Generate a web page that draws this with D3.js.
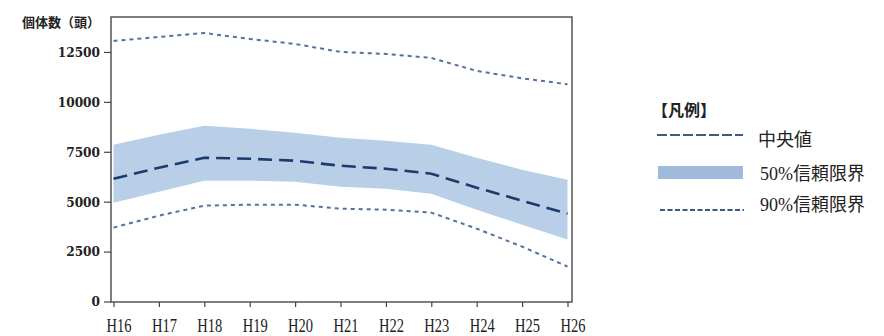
<!DOCTYPE html>
<html>
<head>
<meta charset="utf-8">
<script src="https://cdn.jsdelivr.net/npm/d3@7"></script>
<style>
body { margin: 0; background: #fff; }
text { fill: #222; }
</style>
</head>
<body>
<script>
// years (Heisei)
let years = ["H16", "H17", "H18", "H19", "H20", "H21", "H22", "H23", "H24", "H25", "H26"];
let median = [6150, 6700, 7200, 7150, 7050, 6800, 6650, 6400, 5700, 5050, 4400];
let upper50 = [7850, 8350, 8800, 8650, 8450, 8200, 8050, 7850, 7200, 6600, 6100];
let lower50 = [4950, 5500, 6050, 6050, 6000, 5750, 5650, 5400, 4600, 3850, 3100];
let upper90 = [13050, 13250, 13450, 13150, 12900, 12500, 12400, 12200, 11550, 11180, 10880];
let lower90 = [3700, 4300, 4800, 4850, 4850, 4650, 4600, 4450, 3650, 2750, 1750];
let yTicks = [0, 2500, 5000, 7500, 10000, 12500];
let legendLabels = ["中央値", "50%信頼限界", "90%信頼限界"];

let width = 884;
let height = 336;

let svg = d3.select("body").append("svg").attr("width", width).attr("height", height);

let x = d3.scalePoint().domain(years).range([113.5, 567.5]);
let y = d3.scaleLinear().domain([0, 14250]).range([301.5, 17]);

let idx = d3.range(years.length);

// 50% band
let area = d3.area()
    .x((i) => {return x(years[i]);})
    .y0((i) => {return y(lower50[i]);})
    .y1((i) => {return y(upper50[i]);});

svg.append("path").datum(idx).attr("d", area).attr("fill", "#b9cfe8");

let line = (arr) => {
    return d3.line().x((i) => {return x(years[i]);}).y((i) => {return y(arr[i]);})(idx);
};

[upper90, lower90].forEach((arr) => {
    svg.append("path").attr("d", line(arr))
        .attr("fill", "none").attr("stroke", "#5870a0").attr("stroke-width", 2)
        .attr("stroke-dasharray", "4,4");
});

svg.append("path").attr("d", line(median))
    .attr("fill", "none").attr("stroke", "#1b3b6f").attr("stroke-width", 2.6)
    .attr("stroke-dasharray", "14,7");

// frame
svg.append("rect").attr("x", 111).attr("y", 17).attr("width", 461).attr("height", 285)
    .attr("fill", "none").attr("stroke", "#555").attr("stroke-width", 1.5);

// y axis
let yAxis = svg.append("g").attr("transform", "translate(111,0)")
    .call(d3.axisLeft(y).tickValues(yTicks).tickSize(7).tickPadding(4).tickFormat(d3.format("d")));
yAxis.select(".domain").remove();
yAxis.selectAll("line").attr("stroke", "#444").attr("stroke-width", 1.2);
yAxis.selectAll("text")
    .attr("font-family", "'DejaVu Serif', serif")
    .attr("font-stretch", "condensed")
    .attr("font-weight", "bold").attr("font-size", 13.5).attr("fill", "#333");

// x axis
let xAxis = svg.append("g").attr("transform", "translate(0,302)")
    .call(d3.axisBottom(x).tickSize(5).tickPadding(12));
xAxis.select(".domain").remove();
xAxis.selectAll("line").attr("stroke", "#444").attr("stroke-width", 1.2);
xAxis.selectAll("text")
    .attr("font-family", "'Liberation Serif', serif")
    .attr("font-size", 19).attr("fill", "#333")
    .attr("dx", 5)
    .attr("textLength", 25).attr("lengthAdjust", "spacingAndGlyphs");

// y label
svg.append("text").attr("x", 22).attr("y", 27)
    .attr("font-family", "'Noto Sans CJK JP', sans-serif").attr("font-size", 13)
    .attr("font-weight", "bold").attr("fill", "#333")
    .text("個体数（頭）");

// legend
let lg = svg.append("g");
lg.append("text").attr("x", 652).attr("y", 116)
    .attr("font-family", "'Noto Sans CJK JP', sans-serif").attr("font-size", 16).attr("font-weight", "bold")
    .text("【凡例】");

lg.append("line").attr("x1", 657).attr("x2", 743).attr("y1", 135).attr("y2", 135)
    .attr("stroke", "#3d5a85").attr("stroke-width", 2).attr("stroke-dasharray", "10,3");
lg.append("rect").attr("x", 658).attr("y", 166).attr("width", 85).attr("height", 13)
    .attr("fill", "#9fbadb");
lg.append("line").attr("x1", 660).attr("x2", 744).attr("y1", 210).attr("y2", 210)
    .attr("stroke", "#3d5a85").attr("stroke-width", 2).attr("stroke-dasharray", "5,2.5");

let legendY = [146, 180, 211];
lg.selectAll("text.item").data(legendLabels).enter().append("text")
    .attr("class", "item")
    .attr("x", (d, i) => {return i === 0 ? 758 : 760;})
    .attr("y", (d, i) => {return legendY[i];})
    .attr("font-family", "'Liberation Serif', 'Noto Sans CJK JP', serif")
    .attr("font-size", 18).attr("fill", "#333")
    .text((d) => {return d;});
</script>
</body>
</html>
